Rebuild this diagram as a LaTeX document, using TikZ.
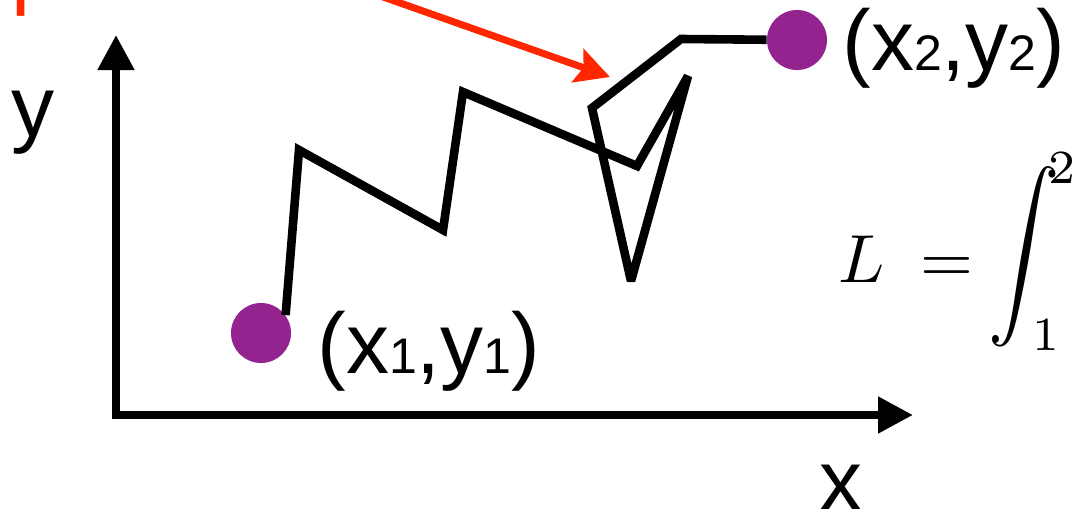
\documentclass[tikz,border=0pt]{standalone}
\usepackage{fontspec}
\usepackage{graphicx}
\usepackage{tikz}
\usetikzlibrary{arrows.meta}
\newfontfamily\labelfont{Liberation Sans}
\definecolor{dotpurple}{RGB}{146,35,143}
\definecolor{callred}{RGB}{255,38,0}
\def\lbl{\labelfont\fontsize{43pt}{43pt}\selectfont}
\def\subidx#1{{\fontsize{25pt}{25pt}\selectfont #1}}
\newcommand\lenint{\mathop{\raisebox{1.18pt}{$\vcenter{\hbox{\scalebox{1.05}[1.195]{$\displaystyle\int$}}}$}}\nolimits}
\tikzset{
  axisline/.style={line width=4pt,
    {Triangle[length=17.5pt,width=17.5pt]}-{Triangle[length=17.5pt,width=17.5pt]}},
  zigzag/.style={line width=4.3pt, miter limit=4},
  enddot/.style={circle, fill=dotpurple, inner sep=0pt, minimum size=30pt},
  callout/.style={callred, line width=3.5pt,
    -{Stealth[length=17pt,width=17.5pt,inset=3pt]}},
  txt/.style={inner sep=0pt, font=\lbl}
}

\begin{document}
\begin{tikzpicture}[x=0.5pt,y=-0.5pt]
\useasboundingbox (0,0) rectangle (1073,509);

%% axes
\coordinate (origin) at (116,415);
\coordinate (ytip) at (116,35);
\coordinate (xtip) at (913,415);
\draw[axisline] (ytip) -- (origin) -- (xtip);
\node[txt, anchor=base] (ylabel) at (33,136) {y};
\node[txt, anchor=base] (xlabel) at (841,510) {x};

%% end points
\node[enddot] (start) at (261,333) {};
\node[enddot] (end) at (797,40) {};
\node[txt, anchor=base west] (startlabel) at (317,373) {(x\subidx{1},y\subidx{1})};
\node[txt, anchor=base west] (endlabel) at (842,70) {(x\subidx{2},y\subidx{2})};

%% path
\coordinate (p1) at (299,150);
\coordinate (p2) at (443,230);
\coordinate (p3) at (463,92);
\coordinate (p4) at (637,166);
\coordinate (p5) at (688,76);
\coordinate (p6) at (631,281);
\coordinate (p7) at (592,108);
\coordinate (p8) at (681,39);
\draw[zigzag] (start.36) -- (p1) -- (p2) -- (p3) -- (p4) -- (p5) -- (p6) -- (p7) -- (p8) -- (end);

%% callout
\node[txt, callred, anchor=base west] (pathlabel) at (11,-2) {path};
\coordinate (calltail) at (352,-14);
\coordinate (calltip) at (610,77);
\draw[callout] (calltail) -- (calltip);

%% formula
\node[anchor=base west, inner sep=0pt] (lenformula) at (838,282)
  {\scalebox{3.4}{$L \mathrel{\hspace{2.5pt}=\hspace{-0.6pt}} \lenint_{\kern-4.1pt 1}^{\kern-1.7pt 2}$}};
\end{tikzpicture}
\end{document}
